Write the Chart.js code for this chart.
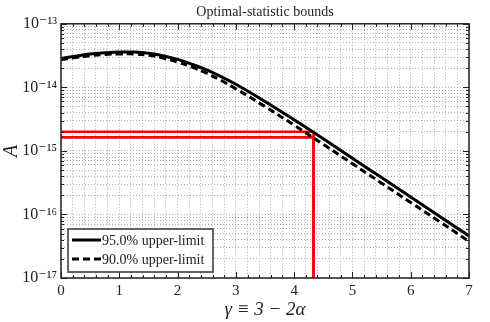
<!DOCTYPE html>
<html><head><meta charset="utf-8">
<script src="https://cdn.jsdelivr.net/npm/chart.js@4/dist/chart.umd.min.js"></script>
<style>html,body{margin:0;padding:0;background:#fff}#wrap{width:490px;height:322px}</style>
</head><body>
<div id="wrap"><canvas id="c"></canvas></div>
<script>
// ---- data ----
const gammaValues = [0, 0.25, 0.5, 0.75, 1, 1.25, 1.5, 1.75, 2, 2.25, 2.5, 2.75, 3, 3.5, 4, 4.5, 5, 5.5, 6, 6.5, 7];
const upper95 = [2.85e-14, 3.1e-14, 3.35e-14, 3.5e-14, 3.6e-14, 3.6e-14, 3.45e-14, 3.15e-14, 2.75e-14, 2.3e-14, 1.88e-14, 1.47e-14, 1.12e-14,
                 6.0e-15, 3.08e-15, 1.55e-15, 7.66e-16, 3.8e-16, 1.88e-16, 9.3e-17, 4.6e-17];
const upper90 = [2.72e-14, 2.95e-14, 3.15e-14, 3.3e-14, 3.35e-14, 3.35e-14, 3.2e-14, 2.9e-14, 2.5e-14, 2.08e-14, 1.67e-14, 1.28e-14, 9.5e-15,
                 5.0e-15, 2.54e-15, 1.27e-15, 6.28e-16, 3.11e-16, 1.54e-16, 7.64e-17, 3.78e-17];
const seriesLabels = ['95.0% upper-limit', '90.0% upper-limit'];
const limitGamma = 4.333;
const limit95 = 2.0e-15;
const limit90 = 1.63e-15;
const xTickLabels = ['0', '1', '2', '3', '4', '5', '6', '7'];
const yTickLabels = ['10\u207B\u00B9\u2077', '10\u207B\u00B9\u2076', '10\u207B\u00B9\u2075', '10\u207B\u00B9\u2074', '10\u207B\u00B9\u00B3'];
const yDecades = [1e-17, 1e-16, 1e-15, 1e-14, 1e-13];
const titleText = 'Optimal-statistic bounds';
const xTitle = '\u03B3 \u2261 3 \u2212 2\u03B1';
const yTitle = 'A';

const SERIF = "'Liberation Serif', 'DejaVu Serif', serif";
const xMin = 0, xMax = 7, yMin = yDecades[0], yMax = yDecades[yDecades.length - 1];

// grid positions: 0.2 steps on x, 1..9 per decade on y
const xGrid = [];
for (let i = 0; i <= 35; i++) xGrid.push(+(i * 0.2).toFixed(1));
const yGrid = [];
for (let d = 0; d < yDecades.length - 1; d++) for (let k = 1; k <= 9; k++) yGrid.push(k * yDecades[d]);
yGrid.push(yMax);

const toXY = (xs, ys) => xs.map((x, i) => ({x: x, y: ys[i]}));

const ticksAndFrame = {
  id: 'ticksAndFrame',
  afterDatasetsDraw(chart) {
    const {ctx, chartArea: a, scales: {x, y}} = chart;
    ctx.save();
    ctx.strokeStyle = '#222';
    ctx.lineWidth = 1;
    ctx.beginPath();
    x.ticks.forEach(t => {
      const px = Math.round(x.getPixelForValue(t.value)) + 0.5;
      const len = Number.isInteger(t.value) ? 6 : 3;
      ctx.moveTo(px, a.bottom); ctx.lineTo(px, a.bottom - len);
      ctx.moveTo(px, a.top); ctx.lineTo(px, a.top + len);
    });
    y.ticks.forEach(t => {
      const py = Math.round(y.getPixelForValue(t.value)) + 0.5;
      const len = yDecades.includes(t.value) ? 6 : 3;
      ctx.moveTo(a.left, py); ctx.lineTo(a.left + len, py);
      ctx.moveTo(a.right, py); ctx.lineTo(a.right - len, py);
    });
    ctx.stroke();
    ctx.lineWidth = 1.5;
    ctx.strokeStyle = '#222';
    ctx.strokeRect(a.left, a.top, a.right - a.left, a.bottom - a.top);
    ctx.restore();
  }
};

const boxLegend = {
  id: 'boxLegend',
  afterDraw(chart) {
    const {ctx, chartArea: a} = chart;
    const bx = a.left + 7, by = a.bottom - 49, bw = 145, bh = 43;
    ctx.save();
    ctx.fillStyle = '#fff';
    ctx.fillRect(bx, by, bw, bh);
    ctx.strokeStyle = '#555';
    ctx.lineWidth = 1.8;
    ctx.strokeRect(bx, by, bw, bh);
    ctx.font = '14px ' + SERIF;
    ctx.fillStyle = '#222';
    ctx.textBaseline = 'middle';
    [0, 1].forEach(i => {
      const ds = chart.data.datasets[i];
      const cy = by + 11 + i * 19;
      ctx.strokeStyle = ds.borderColor;
      ctx.lineWidth = ds.borderWidth;
      ctx.setLineDash(ds.borderDash || []);
      ctx.beginPath();
      ctx.moveTo(bx + 4, cy); ctx.lineTo(bx + 33, cy);
      ctx.stroke();
      ctx.setLineDash([]);
      ctx.fillText(ds.label, bx + 34, cy + 1);
    });
    ctx.restore();
  }
};

new Chart(document.getElementById('c'), {
  type: 'line',
  data: {
    datasets: [
      {label: seriesLabels[0], data: toXY(gammaValues, upper95), borderColor: '#000', borderWidth: 3,
       pointRadius: 0, tension: 0.4, fill: false},
      {label: seriesLabels[1], data: toXY(gammaValues, upper90), borderColor: '#000', borderWidth: 3, borderDash: [7, 4],
       pointRadius: 0, tension: 0.4, fill: false},
      {label: 'limit95', data: [{x: xMin, y: limit95}, {x: limitGamma, y: limit95}, {x: limitGamma, y: yMin}],
       borderColor: '#ff0000', borderWidth: 2.6, pointRadius: 0, tension: 0, fill: false},
      {label: 'limit90', data: [{x: xMin, y: limit90}, {x: limitGamma, y: limit90}, {x: limitGamma, y: yMin}],
       borderColor: '#ff0000', borderWidth: 2.6, pointRadius: 0, tension: 0, fill: false}
    ]
  },
  options: {
    responsive: true,
    maintainAspectRatio: false,
    animation: false,
    events: [],
    layout: {padding: {left: 0, right: 21, top: 0, bottom: 0}},
    plugins: {
      legend: {display: false},
      tooltip: {enabled: false},
      title: {display: true, fullSize: false, text: titleText, color: '#222',
              font: {family: SERIF, size: 14, weight: 'normal'}, padding: {top: 4, bottom: 3}}
    },
    scales: {
      x: {
        type: 'linear', min: xMin, max: xMax,
        afterBuildTicks: s => { s.ticks = xGrid.map(v => ({value: v})); },
        afterFit: s => { s.height = 44; },
        ticks: {autoSkip: false, maxRotation: 0, padding: 4, color: '#222',
                font: {family: SERIF, size: 15},
                callback: v => Number.isInteger(v) ? xTickLabels[v] : ''},
        grid: {color: '#9a9a9a', lineWidth: 0.8, drawTicks: false},
        border: {display: false, dash: [1, 2]},
        title: {display: true, text: xTitle, color: '#222', padding: {top: 0, bottom: 1},
                font: {family: SERIF, size: 19, style: 'italic'}}
      },
      y: {
        type: 'logarithmic', min: yMin, max: yMax,
        afterBuildTicks: s => { s.ticks = yGrid.map(v => ({value: v})); },
        afterFit: s => { s.width = 61; },
        ticks: {autoSkip: false, padding: 4, color: '#222',
                font: {family: SERIF, size: 16},
                callback: v => { const i = yDecades.indexOf(v); return i >= 0 ? yTickLabels[i] : ''; }},
        grid: {color: '#9a9a9a', lineWidth: 0.8, drawTicks: false},
        border: {display: false, dash: [1, 2]},
        title: {display: true, text: yTitle, color: '#222', padding: {top: 0, bottom: 3},
                font: {family: SERIF, size: 20, style: 'italic'}}
      }
    }
  },
  plugins: [ticksAndFrame, boxLegend]
});
</script>
</body></html>
